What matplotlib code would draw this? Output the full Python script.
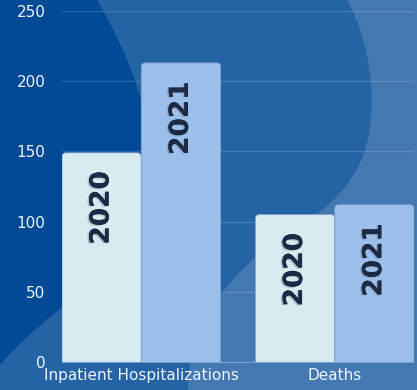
import numpy as np
import matplotlib
matplotlib.use("Agg")
import matplotlib.pyplot as plt
from matplotlib.path import Path
from matplotlib.patches import PathPatch, FancyBboxPatch
import matplotlib.patheffects as pe

categories = ["Inpatient Hospitalizations", "Deaths"]
years = ["2020", "2021"]
values_2020 = [149, 105]
values_2021 = [213, 112]
yticks = [0, 50, 100, 150, 200, 250]

W, H = 417, 390
BG_DARK = "#034a96"
BG_MID = "#2463a4"
BG_LIGHT = "#4378b1"
BAR_COLORS = ["#d8ebf1", "#9dbfeb"]
TEXT = "#1c2b45"

fig = plt.figure(figsize=(W / 100, H / 100), dpi=100)
fig.patch.set_facecolor(BG_DARK)

# background layer, pixel coordinates with origin top-left
bg = fig.add_axes([0, 0, 1, 1], zorder=-1)
bg.set_xlim(0, W)
bg.set_ylim(H, 0)
bg.axis("off")
bg.set_facecolor(BG_DARK)


def wave(points, codes, color):
    bg.add_patch(PathPatch(Path(points, codes), facecolor=color,
                           edgecolor="none"))


M, C, L, Z = Path.MOVETO, Path.CURVE4, Path.LINETO, Path.CLOSEPOLY

# middle band
wave([(97, 0), (150, 90), (180, 200), (110, 270),
      (70, 300), (25, 335), (0, 365),
      (0, 390), (417, 390), (417, 0), (97, 0)],
     [M, C, C, C, C, C, C, L, L, L, Z], BG_MID)

# lighter band on the right
wave([(347, 0), (372, 45), (378, 110), (365, 150),
      (352, 190), (320, 215), (280, 240),
      (240, 265), (210, 300), (195, 345),
      (190, 360), (188, 375), (188, 390),
      (417, 390), (417, 0), (347, 0)],
     [M, C, C, C, C, C, C, C, C, C, C, C, C, L, L, Z], BG_LIGHT)

ax = fig.add_axes([62 / W, 28 / H, 352 / W, 351 / H])
ax.set_facecolor("none")

x = np.arange(len(categories))
width = 0.41
offsets = [-width / 2, width / 2]
series = [values_2020, values_2021]

ax.set_xlim(-0.41, 1.41)
ax.set_ylim(0, 250)

# aspect factor so rounded corners come out circular in pixels
x_per_px = 1.82 / 352
y_per_px = 250 / 351
r_px = 4

for i, vals in enumerate(series):
    bars = ax.bar(x + offsets[i], vals, width, color=BAR_COLORS[i])
    for bar, v in zip(bars, vals):
        bx, bw, bh = bar.get_x(), bar.get_width(), bar.get_height()
        bar.remove()
        rp = FancyBboxPatch((bx, -10), bw, bh + 10,
                            boxstyle=f"round,pad=0,rounding_size={r_px * x_per_px}",
                            mutation_aspect=y_per_px / x_per_px,
                            facecolor=BAR_COLORS[i], edgecolor="#7fa3d0",
                            linewidth=0.6, zorder=3)
        ax.add_patch(rp)
        ax.text(bx + bw / 2, bh - 13, years[i], rotation=90,
                ha="center", va="top", fontsize=19, fontweight="bold",
                color=TEXT, zorder=4,
                path_effects=[pe.withSimplePatchShadow(offset=(-1.2, -0.8),
                                                       shadow_rgbFace="#7d8898",
                                                       alpha=0.45),
                              pe.Normal()])

ax.set_yticks(yticks)
ax.set_xticks(x)
ax.set_xticklabels(categories)
ax.grid(axis="y", color="white", alpha=0.15, linewidth=1, zorder=1)
ax.set_axisbelow(True)
ax.tick_params(length=0, colors="#eef3fa", labelsize=11)
ax.tick_params(axis="y", pad=12)
ax.tick_params(axis="x", pad=4)
for s in ["top", "right", "left"]:
    ax.spines[s].set_visible(False)
ax.spines["bottom"].set_color("#9dbfeb")
ax.spines["bottom"].set_alpha(0.6)
ax.spines["bottom"].set_zorder(5)

fig.savefig("out.png", dpi=100, facecolor=fig.get_facecolor())
